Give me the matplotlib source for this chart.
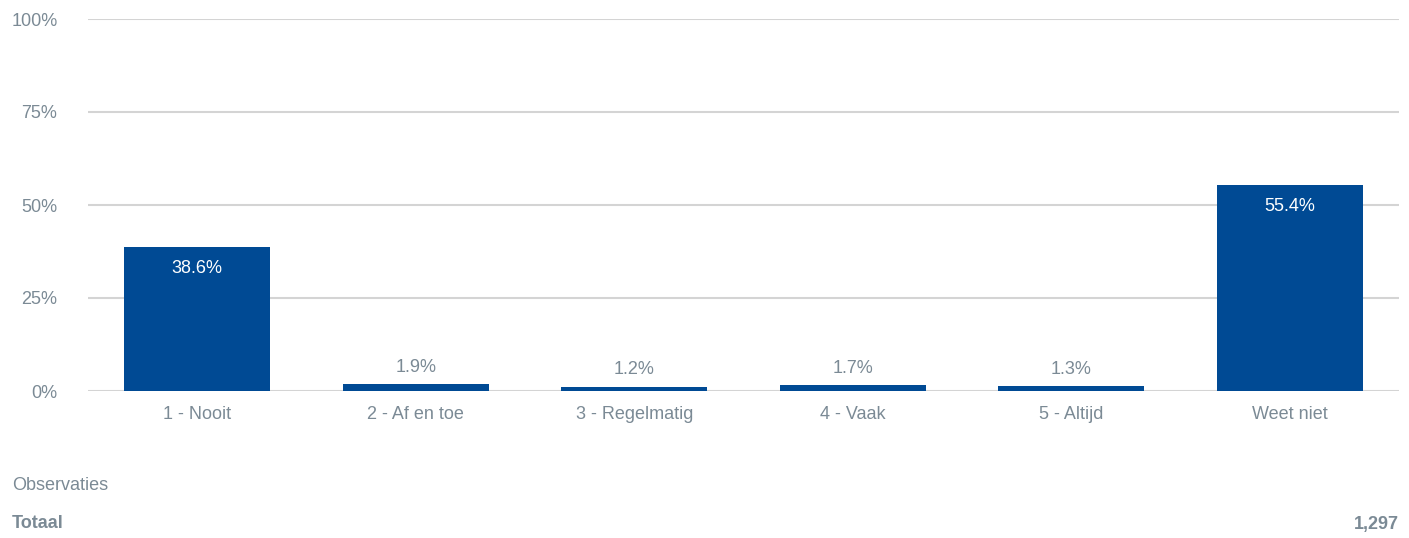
import numpy as np
import matplotlib.pyplot as plt

categories = ['1 - Nooit', '2 - Af en toe', '3 - Regelmatig', '4 - Vaak', '5 - Altijd', 'Weet niet']
percentages = [38.6, 1.9, 1.2, 1.7, 1.3, 55.4]
total_label = 'Totaal'
total_value = '1,297'

bar_color = '#004a94'
text_color = '#7b8a95'
grid_color = '#d4d4d4'

plt.rcParams['font.family'] = ['Liberation Sans', 'DejaVu Sans']

fig = plt.figure(figsize=(14.09, 5.38), dpi=100)
ax = fig.add_axes([88 / 1409, 1 - 391 / 538, (1399 - 88) / 1409, (391 - 19) / 538])

x = np.arange(len(categories))
ax.bar(x, percentages, width=0.668, color=bar_color, zorder=3)

for xi, v in zip(x, percentages):
    if v > 10:
        ax.annotate(f'{v:.1f}%', (xi, v), xytext=(0, -15.5), textcoords='offset points',
                    ha='center', va='center', color='white', fontsize=13, zorder=4)
    else:
        ax.annotate(f'{v:.1f}%', (xi, v), xytext=(0, 12), textcoords='offset points',
                    ha='center', va='center', color=text_color, fontsize=13, zorder=4)

ax.set_xlim(-0.5, len(categories) - 0.5)
ax.set_ylim(0, 100)
ax.set_yticks([0, 25, 50, 75, 100])
ax.set_yticklabels(['0%', '25%', '50%', '75%', '100%'])
ax.set_xticks(x)
ax.set_xticklabels(categories)

ax.grid(axis='y', color=grid_color, linewidth=1.5, zorder=0)
ax.set_axisbelow(True)
for s in ax.spines.values():
    s.set_visible(False)
ax.tick_params(axis='both', length=0, colors=text_color, labelsize=13)
ax.tick_params(axis='y', pad=22)
ax.tick_params(axis='x', pad=10.5)

fig.text(12 / 1409, 1 - 485 / 538, 'Observaties', ha='left', va='center',
         color=text_color, fontsize=13)
fig.text(12 / 1409, 1 - 524 / 538, total_label, ha='left', va='center',
         color=text_color, fontsize=13, fontweight='bold')
fig.text(1399 / 1409, 1 - 524 / 538, total_value, ha='right', va='center',
         color=text_color, fontsize=13, fontweight='bold')

fig.savefig('out.png', dpi=100)
